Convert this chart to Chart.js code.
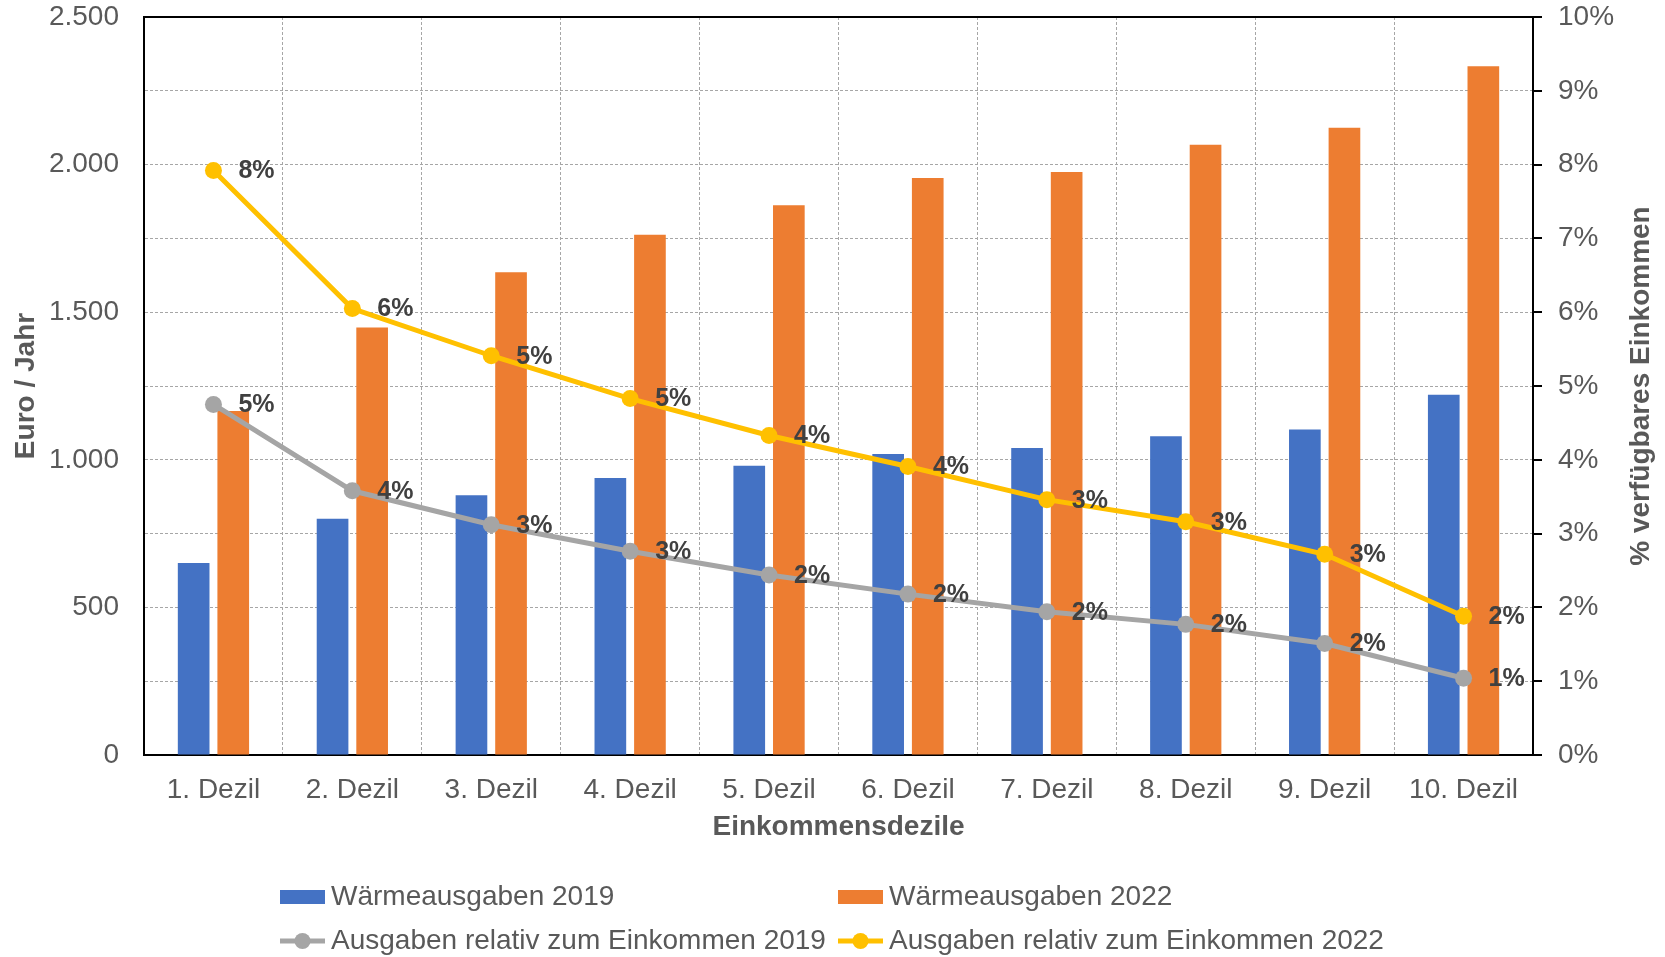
<!DOCTYPE html>
<html>
<head>
<meta charset="utf-8">
<script src="https://cdn.jsdelivr.net/npm/chart.js@4/dist/chart.umd.min.js"></script>
<style>
  html, body { margin: 0; padding: 0; background: #ffffff; }
  #wrap { width: 1665px; height: 957px; }
</style>
</head>
<body>
<div id="wrap"><canvas id="c" width="1665" height="957"></canvas></div>
<script>
// Heating expenditure by income decile (euro per year) and as share of disposable income
const deciles = ['1. Dezil', '2. Dezil', '3. Dezil', '4. Dezil', '5. Dezil',
                 '6. Dezil', '7. Dezil', '8. Dezil', '9. Dezil', '10. Dezil'];
const heat2019 = [650, 800, 880, 938, 980, 1020, 1040, 1080, 1103, 1220];
const heat2022 = [1165, 1448, 1635, 1762, 1862, 1955, 1975, 2067, 2125, 2333];
const share2019 = [4.75, 3.58, 3.12, 2.76, 2.44, 2.18, 1.94, 1.77, 1.51, 1.04];
const share2022 = [7.92, 6.05, 5.41, 4.83, 4.33, 3.91, 3.46, 3.16, 2.72, 1.88];
const seriesLabels = ['Wärmeausgaben 2019', 'Wärmeausgaben 2022',
                      'Ausgaben relativ zum Einkommen 2019', 'Ausgaben relativ zum Einkommen 2022'];
const axisTitles = { x: 'Einkommensdezile', y: 'Euro / Jahr', y1: '% verfügbares Einkommen' };

const FONT = '"Liberation Sans", Arial, sans-serif';
const TEXT = '#595959';
const GRID = '#a6a6a6';

function euro(v) {
  return String(v).replace(/\B(?=(\d{3})+(?!\d))/g, '.');
}

// Black line closing the plot area at the top
const framePlugin = {
  id: 'frame',
  afterDatasetsDraw(chart) {
    const { ctx, chartArea: a } = chart;
    ctx.save();
    ctx.strokeStyle = '#000';
    ctx.lineWidth = 2;
    ctx.beginPath();
    ctx.moveTo(a.left, a.top);
    ctx.lineTo(a.right, a.top);
    ctx.stroke();
    ctx.restore();
  }
};

// Rounded percentage labels to the right of each line point
const pointLabels = {
  id: 'pointLabels',
  afterDatasetsDraw(chart) {
    const { ctx } = chart;
    ctx.save();
    ctx.font = 'bold 25px ' + FONT;
    ctx.fillStyle = '#404040';
    ctx.textAlign = 'left';
    ctx.textBaseline = 'middle';
    chart.data.datasets.forEach((ds, i) => {
      if (ds.type !== 'line') return;
      const meta = chart.getDatasetMeta(i);
      meta.data.forEach((pt, j) => {
        ctx.fillText(Math.round(ds.data[j]) + '%', pt.x + 25, pt.y + 1);
      });
    });
    ctx.restore();
  }
};

// Right axis title (reads bottom to top) and the two-column legend
const extras = {
  id: 'extras',
  afterDraw(chart) {
    const { ctx, chartArea: a } = chart;
    ctx.save();
    ctx.font = 'bold 28px ' + FONT;
    ctx.fillStyle = TEXT;
    ctx.textAlign = 'center';
    ctx.textBaseline = 'middle';
    ctx.translate(1641, (a.top + a.bottom) / 2);
    ctx.rotate(-Math.PI / 2);
    ctx.fillText(axisTitles.y1, 0, 0);
    ctx.restore();

    const cols = [280, 838];
    const rows = [897, 941];
    ctx.save();
    ctx.font = '28px ' + FONT;
    ctx.textBaseline = 'middle';
    ctx.textAlign = 'left';
    chart.data.datasets.forEach((ds, i) => {
      const x = cols[i % 2];
      const y = rows[Math.floor(i / 2)];
      if (ds.type === 'line') {
        ctx.strokeStyle = ds.borderColor;
        ctx.lineWidth = 5;
        ctx.beginPath();
        ctx.moveTo(x, y);
        ctx.lineTo(x + 45, y);
        ctx.stroke();
        ctx.fillStyle = ds.borderColor;
        ctx.beginPath();
        ctx.arc(x + 22.5, y, 8, 0, Math.PI * 2);
        ctx.fill();
      } else {
        ctx.fillStyle = ds.backgroundColor;
        ctx.fillRect(x, y - 7, 45, 14);
      }
      ctx.fillStyle = TEXT;
      ctx.fillText(ds.label, x + 51, y);
    });
    ctx.restore();
  }
};

function fixVertical(width) {
  return function (scale) {
    scale.width = width;
    scale.paddingTop = 0;
    scale.paddingBottom = 0;
  };
}

new Chart(document.getElementById('c'), {
  data: {
    labels: deciles,
    datasets: [
      { type: 'bar', label: seriesLabels[0], data: heat2019, yAxisID: 'y',
        backgroundColor: '#4472C4', order: 2 },
      { type: 'bar', label: seriesLabels[1], data: heat2022, yAxisID: 'y',
        backgroundColor: '#ED7D31', order: 2 },
      { type: 'line', label: seriesLabels[2], data: share2019, yAxisID: 'y1',
        borderColor: '#A5A5A5', backgroundColor: '#A5A5A5', borderWidth: 5,
        pointRadius: 8.5, pointBackgroundColor: '#A5A5A5', pointBorderWidth: 0,
        tension: 0, order: 1 },
      { type: 'line', label: seriesLabels[3], data: share2022, yAxisID: 'y1',
        borderColor: '#FFC000', backgroundColor: '#FFC000', borderWidth: 5,
        pointRadius: 8.5, pointBackgroundColor: '#FFC000', pointBorderWidth: 0,
        tension: 0, order: 1 }
    ]
  },
  options: {
    responsive: false,
    animation: false,
    devicePixelRatio: 1,
    categoryPercentage: 0.57,
    barPercentage: 0.8,
    layout: { padding: { top: 17, left: 0, right: 0, bottom: 100 } },
    plugins: {
      legend: { display: false },
      tooltip: { enabled: false }
    },
    scales: {
      x: {
        offset: true,
        grid: { display: true, color: GRID, lineWidth: 1, drawTicks: false, offset: true },
        border: { display: true, color: '#000', width: 2, dash: [3, 2] },
        ticks: { color: TEXT, font: { family: FONT, size: 28 }, padding: 18, maxRotation: 0, autoSkip: false },
        title: { display: true, text: axisTitles.x, color: TEXT,
                 font: { family: FONT, size: 28, weight: 'bold' }, padding: { top: 0, bottom: 13 } },
        afterFit(scale) { scale.height = 102; scale.paddingLeft = 0; scale.paddingRight = 0; }
      },
      y: {
        position: 'left',
        min: 0, max: 2500,
        grid: { color: GRID, lineWidth: 1, drawTicks: false },
        border: { display: true, color: '#000', width: 2, dash: [3, 2] },
        ticks: { stepSize: 250, autoSkip: false, padding: 25, color: TEXT,
                 font: { family: FONT, size: 28 },
                 callback: v => (v % 500 === 0 ? euro(v) : '') },
        title: { display: true, text: axisTitles.y, color: TEXT,
                 font: { family: FONT, size: 28, weight: 'bold' }, padding: { top: 9, bottom: 0 } },
        afterFit: fixVertical(144)
      },
      y1: {
        position: 'right',
        min: 0, max: 10,
        grid: { drawOnChartArea: false, drawTicks: true, tickLength: 9, color: '#000', lineWidth: 2 },
        border: { display: true, color: '#000', width: 2 },
        ticks: { stepSize: 1, autoSkip: false, padding: 16, color: TEXT,
                 font: { family: FONT, size: 28 }, callback: v => v + '%' },
        afterFit: fixVertical(132)
      }
    }
  },
  plugins: [framePlugin, pointLabels, extras]
});
</script>
</body>
</html>
